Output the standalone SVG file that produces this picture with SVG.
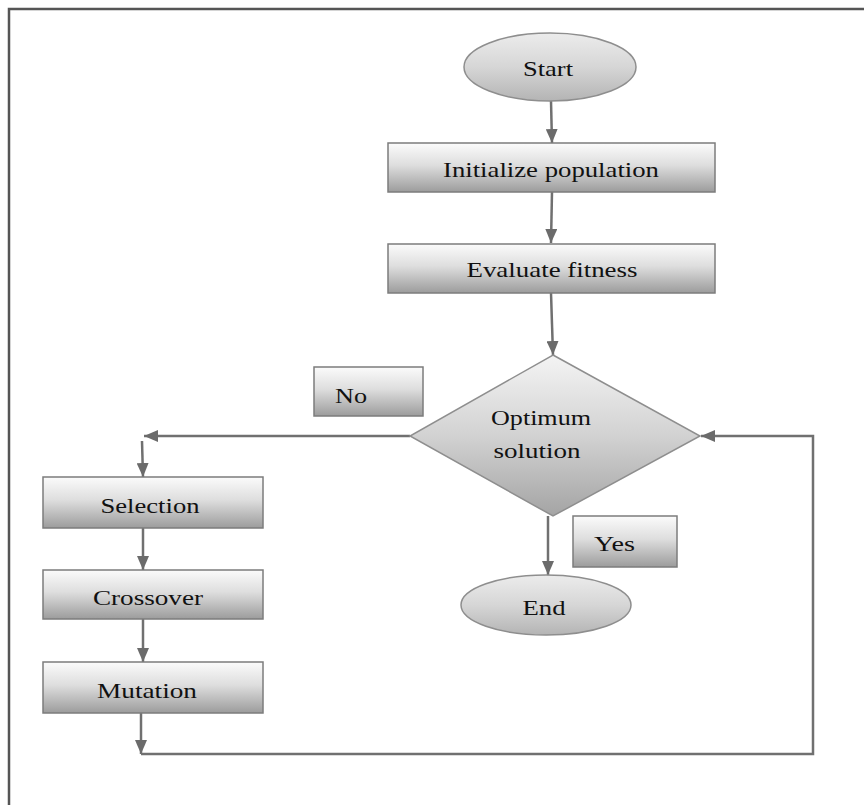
<svg xmlns="http://www.w3.org/2000/svg" width="864" height="805" viewBox="0 0 864 805">
<defs>
<linearGradient id="gBox" x1="0" y1="0" x2="0" y2="1">
<stop offset="0" stop-color="#fbfbfb"/>
<stop offset="0.45" stop-color="#dedede"/>
<stop offset="1" stop-color="#9c9c9c"/>
</linearGradient>
<linearGradient id="gEll" x1="0" y1="0" x2="0" y2="1">
<stop offset="0" stop-color="#ececec"/>
<stop offset="0.5" stop-color="#d6d6d6"/>
<stop offset="1" stop-color="#b4b4b4"/>
</linearGradient>
<linearGradient id="gDia" x1="0" y1="0" x2="0" y2="1">
<stop offset="0" stop-color="#f4f4f4"/>
<stop offset="0.5" stop-color="#d2d2d2"/>
<stop offset="1" stop-color="#a4a4a4"/>
</linearGradient>
<marker id="arr" viewBox="0 0 14 12" refX="14" refY="6" markerWidth="14" markerHeight="12" markerUnits="userSpaceOnUse" orient="auto">
<path d="M0,0 L14,6 L0,12 z" fill="#6b6b6b"/>
</marker>
<style>
.box{fill:url(#gBox);stroke:#7c7c7c;stroke-width:1.5}
.ell{fill:url(#gEll);stroke:#8e8e8e;stroke-width:1.5}
.dia{fill:url(#gDia);stroke:#8e8e8e;stroke-width:1.5}
.t{font-family:"Liberation Serif","DejaVu Serif",serif;font-size:22px;fill:#111}
.c{fill:none;stroke:#707070;stroke-width:2.5}
</style>
</defs>
<rect width="864" height="805" fill="#ffffff"/>
<path d="M9,805 L9,9 L864,9" fill="none" stroke="#555555" stroke-width="2.5"/>

<g id="connectors">
<path class="c" d="M551,101 L552,143" marker-end="url(#arr)"/>
<path class="c" d="M552,192 L551,243" marker-end="url(#arr)"/>
<path class="c" d="M551,293 L553,355" marker-end="url(#arr)"/>
<path class="c" d="M410,436 L144,436" marker-end="url(#arr)"/>
<path class="c" d="M142,441 L143,477" marker-end="url(#arr)"/>
<path class="c" d="M143,528 L143,570" marker-end="url(#arr)"/>
<path class="c" d="M143,619 L143,662" marker-end="url(#arr)"/>
<path class="c" d="M141,713 L141,754" marker-end="url(#arr)"/>
<path class="c" d="M141,754 L813,754 L813,436 L701,436" marker-end="url(#arr)"/>
<path class="c" d="M548,516 L548,575" marker-end="url(#arr)"/>
</g>

<g id="start">
<ellipse class="ell" cx="550" cy="67" rx="86" ry="34"/>
<text class="t" x="548" y="76" text-anchor="middle" textLength="50" lengthAdjust="spacingAndGlyphs">Start</text>
</g>
<g id="init">
<rect class="box" x="388" y="143" width="327" height="49"/>
<text class="t" x="551" y="177" text-anchor="middle" textLength="216" lengthAdjust="spacingAndGlyphs">Initialize population</text>
</g>
<g id="eval">
<rect class="box" x="388" y="244" width="327" height="49"/>
<text class="t" x="552" y="277" text-anchor="middle" textLength="171" lengthAdjust="spacingAndGlyphs">Evaluate fitness</text>
</g>
<g id="decision">
<polygon class="dia" points="553,355 700,436 553,516 410,436"/>
<text class="t" x="541" y="425" text-anchor="middle" textLength="100" lengthAdjust="spacingAndGlyphs">Optimum</text>
<text class="t" x="537" y="458" text-anchor="middle" textLength="87" lengthAdjust="spacingAndGlyphs">solution</text>
</g>
<g id="no">
<rect class="box" x="314" y="367" width="109" height="49"/>
<text class="t" x="335" y="403" textLength="32" lengthAdjust="spacingAndGlyphs">No</text>
</g>
<g id="yes">
<rect class="box" x="573" y="516" width="104" height="51"/>
<text class="t" x="594" y="551" textLength="41" lengthAdjust="spacingAndGlyphs">Yes</text>
</g>
<g id="end">
<ellipse class="ell" cx="546" cy="605" rx="85" ry="30"/>
<text class="t" x="544" y="615" text-anchor="middle" textLength="43" lengthAdjust="spacingAndGlyphs">End</text>
</g>
<g id="selection">
<rect class="box" x="43" y="477" width="220" height="51"/>
<text class="t" x="150" y="513" text-anchor="middle" textLength="99" lengthAdjust="spacingAndGlyphs">Selection</text>
</g>
<g id="crossover">
<rect class="box" x="43" y="570" width="220" height="49"/>
<text class="t" x="148" y="605" text-anchor="middle" textLength="110" lengthAdjust="spacingAndGlyphs">Crossover</text>
</g>
<g id="mutation">
<rect class="box" x="43" y="662" width="220" height="51"/>
<text class="t" x="147" y="698" text-anchor="middle" textLength="100" lengthAdjust="spacingAndGlyphs">Mutation</text>
</g>
</svg>
